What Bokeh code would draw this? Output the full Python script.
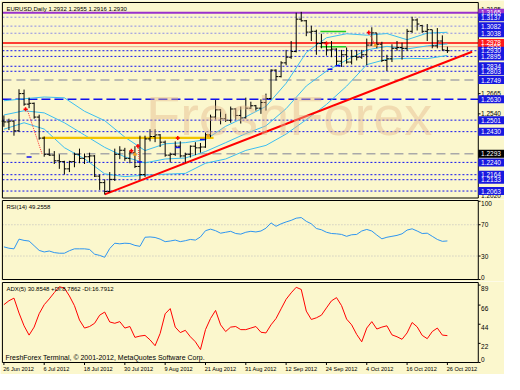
import numpy as np
from bokeh.plotting import figure
from bokeh.layouts import column
from bokeh.models import Range1d, Label
from bokeh.core.properties import value
from bokeh.embed import file_html
from bokeh.resources import INLINE

# ---------------- data ----------------
date_ticks = [0, 8, 16, 24, 32, 40, 48, 56, 64, 72, 80, 88]
date_labels = ["26 Jun 2012", "6 Jul 2012", "18 Jul 2012", "30 Jul 2012", "9 Aug 2012",
               "21 Aug 2012", "31 Aug 2012", "12 Sep 2012", "24 Sep 2012", "4 Oct 2012",
               "16 Oct 2012", "26 Oct 2012"]

opens = [1.2495, 1.2490, 1.2495, 1.2435, 1.2665, 1.2600, 1.2605, 1.2520, 1.2390, 1.2290,
         1.2285, 1.2250, 1.2245, 1.2200, 1.2245, 1.2290, 1.2265, 1.2275, 1.2280, 1.2155,
         1.2115, 1.2060, 1.2135, 1.2290, 1.2315, 1.2265, 1.2300, 1.2215, 1.2165, 1.2385,
         1.2400, 1.2410, 1.2365, 1.2285, 1.2290, 1.2340, 1.2280, 1.2290, 1.2340, 1.2330,
         1.2335, 1.2410, 1.2520, 1.2565, 1.2510, 1.2500, 1.2570, 1.2530, 1.2515, 1.2575,
         1.2590, 1.2575, 1.2610, 1.2635, 1.2810, 1.2770, 1.2855, 1.2890, 1.2925, 1.3125,
         1.3115, 1.3045, 1.3050, 1.2975, 1.2980, 1.2935, 1.2940, 1.2865, 1.2905, 1.2860,
         1.2895, 1.2890, 1.2905, 1.2965, 1.3040, 1.2970, 1.2870, 1.2880, 1.2945, 1.2950,
         1.2945, 1.3050, 1.3120, 1.3085, 1.3050, 1.3060, 1.2960, 1.2990, 1.2932]
highs = [1.2530, 1.2510, 1.2500, 1.2692, 1.2690, 1.2640, 1.2610, 1.2535, 1.2400, 1.2325,
         1.2310, 1.2290, 1.2250, 1.2250, 1.2300, 1.2325, 1.2295, 1.2300, 1.2285, 1.2165,
         1.2135, 1.2180, 1.2325, 1.2340, 1.2330, 1.2310, 1.2340, 1.2405, 1.2405, 1.2445,
         1.2445, 1.2415, 1.2375, 1.2300, 1.2370, 1.2370, 1.2300, 1.2345, 1.2365, 1.2360,
         1.2425, 1.2535, 1.2625, 1.2570, 1.2540, 1.2585, 1.2575, 1.2585, 1.2640, 1.2615,
         1.2595, 1.2630, 1.2665, 1.2815, 1.2815, 1.2865, 1.2935, 1.2990, 1.3165, 1.3170,
         1.3120, 1.3085, 1.3060, 1.3035, 1.2985, 1.2990, 1.2945, 1.2935, 1.2950, 1.2935,
         1.2935, 1.2935, 1.3005, 1.3075, 1.3040, 1.2985, 1.2905, 1.2970, 1.2990, 1.2980,
         1.3065, 1.3140, 1.3130, 1.3090, 1.3095, 1.3060, 1.3070, 1.3025, 1.2955]
lows = [1.2460, 1.2440, 1.2405, 1.2430, 1.2590, 1.2575, 1.2510, 1.2380, 1.2275, 1.2280,
        1.2230, 1.2200, 1.2165, 1.2180, 1.2210, 1.2235, 1.2230, 1.2240, 1.2150, 1.2070,
        1.2042, 1.2055, 1.2125, 1.2260, 1.2250, 1.2235, 1.2205, 1.2135, 1.2150, 1.2370,
        1.2365, 1.2335, 1.2275, 1.2240, 1.2280, 1.2270, 1.2240, 1.2270, 1.2285, 1.2300,
        1.2330, 1.2395, 1.2505, 1.2475, 1.2490, 1.2485, 1.2505, 1.2480, 1.2510, 1.2570,
        1.2560, 1.2540, 1.2560, 1.2630, 1.2745, 1.2765, 1.2840, 1.2880, 1.2920, 1.3110,
        1.3020, 1.2990, 1.2905, 1.2945, 1.2900, 1.2890, 1.2835, 1.2830, 1.2850, 1.2845,
        1.2870, 1.2880, 1.2840, 1.2960, 1.2945, 1.2860, 1.2805, 1.2860, 1.2930, 1.2875,
        1.2930, 1.3040, 1.3055, 1.3040, 1.2990, 1.2945, 1.2945, 1.2930, 1.2916]
closes = [1.2490, 1.2495, 1.2435, 1.2665, 1.2600, 1.2605, 1.2520, 1.2390, 1.2290, 1.2285,
          1.2250, 1.2245, 1.2200, 1.2245, 1.2290, 1.2265, 1.2275, 1.2280, 1.2155, 1.2115,
          1.2060, 1.2135, 1.2290, 1.2315, 1.2265, 1.2300, 1.2215, 1.2165, 1.2385, 1.2400,
          1.2410, 1.2365, 1.2285, 1.2290, 1.2340, 1.2280, 1.2290, 1.2340, 1.2330, 1.2335,
          1.2410, 1.2520, 1.2565, 1.2510, 1.2500, 1.2570, 1.2530, 1.2515, 1.2575, 1.2590,
          1.2575, 1.2610, 1.2635, 1.2810, 1.2770, 1.2855, 1.2890, 1.2925, 1.3125, 1.3115,
          1.3045, 1.3050, 1.2975, 1.2980, 1.2935, 1.2940, 1.2865, 1.2905, 1.2860, 1.2895,
          1.2890, 1.2905, 1.2965, 1.3040, 1.2970, 1.2870, 1.2880, 1.2945, 1.2950, 1.2945,
          1.3050, 1.3120, 1.3095, 1.3050, 1.3060, 1.2960, 1.2990, 1.2935, 1.2930]

bb_idx = [0, 4, 8, 12, 16, 20, 24, 28, 32, 36, 40, 44, 48, 52, 56, 60, 64, 68, 72, 76,
          80, 84, 88]
bb_upper = [1.2621, 1.2633, 1.2644, 1.2639, 1.2556, 1.2498, 1.2396, 1.2313, 1.2355, 1.2362,
            1.2380, 1.2463, 1.2522, 1.2586, 1.2729, 1.2919, 1.3010, 1.3035, 1.3026, 1.3036,
            1.2998, 1.3039, 1.3044]
bb_mid = [1.2533, 1.2559, 1.2546, 1.2485, 1.2409, 1.2333, 1.2274, 1.2237, 1.2261, 1.2267,
          1.2307, 1.2362, 1.2418, 1.2466, 1.2572, 1.2712, 1.2804, 1.2873, 1.2935, 1.2957,
          1.2941, 1.2960, 1.2972]
bb_lower = [1.2445, 1.2485, 1.2446, 1.2331, 1.2262, 1.2169, 1.2152, 1.2161, 1.2167, 1.2172,
            1.2235, 1.2261, 1.2314, 1.2345, 1.2415, 1.2504, 1.2598, 1.2711, 1.2844, 1.2878,
            1.2883, 1.2881, 1.2901]

rsi = [41.7, 40.0, 39.2, 51.6, 50.0, 49.2, 43.2, 37.2, 35.2, 36.4,
       34.4, 33.6, 33.6, 36.8, 39.2, 39.2, 39.2, 38.4, 32.4, 30.8,
       28.4, 39.6, 46.4, 45.6, 46.4, 46.0, 43.6, 42.4, 54.0, 54.4,
       53.7, 51.6, 48.4, 49.2, 50.4, 48.4, 49.6, 51.2, 50.4, 54.4,
       62.4, 64.4, 62.4, 59.2, 60.4, 61.6, 58.8, 58.0, 60.4, 61.6,
       60.8, 62.0, 65.6, 72.4, 68.0, 71.2, 73.6, 75.6, 78.4, 79.2,
       74.4, 71.2, 65.2, 63.6, 60.4, 58.8, 58.4, 57.6, 55.2, 57.2,
       57.6, 62.0, 64.0, 62.0, 56.8, 52.0, 54.0, 55.2, 56.4, 58.4,
       63.2, 64.8, 62.0, 58.8, 59.2, 55.2, 51.2, 48.8, 49.3]

adx = [66.5, 71.0, 74.0, 56.9, 42.2, 31.5, 40.7, 56.1, 66.5, 73.1,
       80.4, 87.1, 85.6, 76.5, 65.4, 48.8, 39.6, 41.4, 45.1, 54.4,
       58.0, 46.6, 45.1, 47.0, 39.6, 41.4, 28.9, 30.4, 31.2, 26.0,
       19.3, 33.4, 56.0, 62.0, 40.7, 34.4, 37.0, 29.6, 23.8, 14.9,
       37.8, 50.6, 59.9, 43.3, 35.6, 40.7, 41.4, 37.8, 37.8, 39.6,
       41.4, 34.8, 34.0, 43.3, 50.6, 61.7, 72.7, 80.1, 86.5, 84.0,
       59.1, 49.5, 51.4, 54.4, 62.8, 70.9, 74.6, 65.4, 49.9, 43.3,
       32.3, 23.8, 39.6, 47.0, 38.5, 40.7, 42.2, 31.8, 29.6, 26.7,
       34.0, 46.0, 41.0, 31.2, 27.4, 35.6, 39.6, 31.5, 30.9]

# horizontal levels: value, line kind, box kind
levels = [1.3165, 1.3137, 1.3082, 1.3038, 1.2978, 1.2955, 1.2930, 1.2895, 1.2834, 1.2803,
          1.2749, 1.2630, 1.2501, 1.2430, 1.2293, 1.2240, 1.2164, 1.2133, 1.2063]
level_line = ["purple", "lav", "lav", "lav", "red", "pink", "blue", "blue", "blue", "blue",
              "gray", "bluedash", "blue", "blue", "gray", "blue", "blue", "blue", "blue"]
level_box = ["purple", "blue", "blue", "blue", "red", "red", "blue", "blue", "blue", "blue",
             "blue", "blue", "blue", "blue", "black", "blue", "blue", "blue", "blue"]
price_ticks = [1.3185, 1.2665, 1.2540, 1.2020]
rsi_ticks = [100, 70, 30, 0]
adx_ticks = [89, 66, 44, 22, 0]

trend_x = [20, 92.9]
trend_y = [1.2042, 1.2924]
yellow_x = [7.6, 41.6]
yellow_y = [1.2391, 1.2391]
green_x = [62.8, 67.9]
green_levels = [1.3049, 1.2954]

red_sig_x = [4.3, 25.3, 26.6, 34.5, 64.0, 72.4]
red_sig_y = [1.2569, 1.2312, 1.2341, 1.2391, 1.2974, 1.3043]
blue_sig_x = [5.0, 26.9, 34.5, 39.4, 64.7, 66.3]
blue_sig_y = [1.2273, 1.2243, 1.2332, 1.2381, 1.2815, 1.2837]
orange_sig_x = [26.0, 73.7, 40.5]
orange_sig_y = [1.2290, 1.2964, 1.2405]
conn_x = [[4.6, 7.6], [25.3, 26.0], [26.6, 26.9], [72.4, 73.7]]
conn_y = [[1.2569, 1.2290], [1.2312, 1.2290], [1.2341, 1.2243], [1.3043, 1.2964]]

header = "EURUSD,Daily  1.2932 1.2955 1.2916 1.2930"
rsi_header = "RSI(14) 49.2558"
adx_header = "ADX(5) 30.8548 +DI:8.7862 -DI:16.7912"
footer = "FreshForex Terminal, \u00a9 2001-2012, MetaQuotes Software Corp."
watermark = "FreshForex"

# ---------------- styling ----------------
BG = "#FBF7CD"
FONT = "Liberation Sans"
FS = "6.5px"
XL, XR = -0.673, 99.33      # whole canvas width
X0, X1 = -0.29, 94.13       # panel frame
P0, P1 = 1.2020, 1.3228

line_styles = {
    "purple": ("#9932CC", "solid", 2),
    "lav": ("#8C8CE6", "2 2", 1),
    "blue": ("#1010F0", "2 2", 1),
    "red": ("#FF0000", "solid", 1.5),
    "pink": ("#F2A48C", "solid", 1),
    "gray": ("#A9A9A9", "9 5", 1.5),
    "bluedash": ("#1010F0", "9 4", 1.5),
}
box_colors = {"purple": "#9932CC", "blue": "#1818E0", "red": "#FF1A1A", "black": "#000000"}

xr = Range1d(XL, XR)


def make_fig(h, y0, y1):
    p = figure(width=504, height=h, x_range=xr, y_range=Range1d(y0, y1),
               output_backend="svg", toolbar_location=None, y_axis_location=None,
               x_axis_location=None, min_border_left=0, min_border_right=0,
               min_border_top=0, min_border_bottom=0)
    p.background_fill_color = BG
    p.border_fill_color = BG
    p.outline_line_color = None
    p.grid.visible = False
    return p


def frame(p, lo, hi):
    p.line([X0, X1, X1, X0, X0], [lo, lo, hi, hi, lo], line_color="black", line_width=1)


def scale_text(p, ys, texts, color="black", baseline="middle"):
    p.text([X1 + 0.55] * len(ys), ys, text=texts, text_font=value(FONT),
           text_font_size=value(FS), text_color=color, text_baseline=baseline,
           text_align="left")


# ---------------- price panel ----------------
pstep = (P1 - P0) / 195.5
pp = make_fig(199, P0 - 1.5 * pstep, P1 + 2.0 * pstep)

pp.add_layout(Label(x=56.6, y=1.2529, text=watermark, text_font_size="56px",
                    text_font=FONT, text_color="#E4B88E", text_alpha=0.45,
                    text_align="center", text_baseline="alphabetic"))

for lv, lk in zip(levels, level_line):
    c, d, w = line_styles[lk]
    pp.line([X0, X1], [lv, lv], line_color=c, line_dash=d, line_width=w)

for arr in (bb_upper, bb_mid, bb_lower):
    pp.line(bb_idx, arr, line_color="#3CBEF0", line_width=1)

pp.line(yellow_x, yellow_y, line_color="#F2C400", line_width=2.2)
for g in green_levels:
    pp.line(green_x, [g, g], line_color="#22CC22", line_width=1.5)
pp.line(trend_x, trend_y, line_color="#FF0000", line_width=2)

idx = np.arange(len(opens))
pp.segment(idx, lows, idx, highs, line_color="black", line_width=1)
pp.segment(idx - 0.45, opens, idx, opens, line_color="black", line_width=1)
pp.segment(idx, closes, idx + 0.45, closes, line_color="black", line_width=1)

pp.multi_line(conn_x, conn_y, line_color="#FF3030", line_dash="1 1", line_width=1)
pp.scatter(red_sig_x, red_sig_y, marker="cross", size=4, line_color="#FF0000", line_width=1.5)
pp.scatter(blue_sig_x, blue_sig_y, marker="dash", size=5, line_color="#1010F0", line_width=1.5)
pp.scatter(orange_sig_x, orange_sig_y, marker="triangle", size=3, fill_color="#F0A020",
           line_color="#F0A020")

frame(pp, P0, P1)

# right price scale: plain ticks and coloured level boxes
pp.segment([X1] * 3, price_ticks[:-1], [X1 + 0.45] * 3, price_ticks[:-1], line_color="black")
scale_text(pp, price_ticks[:-1], ["%.4f" % t for t in price_ticks[:-1]])
scale_text(pp, [P0], ["%.4f" % price_ticks[-1]], baseline="bottom")
box_h = 8 * pstep
pp.rect([(X1 + XR) / 2] * len(levels), levels, width=XR - X1, height=box_h,
        fill_color=[box_colors[b] for b in level_box], line_color=None)
scale_text(pp, levels, ["%.4f" % v for v in levels], color="white")

pp.add_layout(Label(x=X0, y=P1, x_offset=4, y_offset=-3, text=header, text_font=FONT,
                    text_font_size="6px", text_baseline="top", text_align="left",
                    text_color="black"))

# ---------------- RSI panel ----------------
R0, R1 = 0, 101
rstep = (R1 - R0) / 79.0
rp = make_fig(82, R0 - 2 * rstep, R1 + 1 * rstep)
for lv in (30, 70):
    rp.line([X0, X1], [lv, lv], line_color="#BDBDBD", line_dash="1 2", line_width=1)
rp.line(idx, rsi, line_color="#2E95F0", line_width=1)
frame(rp, R0, R1)
rp.segment([X1] * 4, rsi_ticks, [X1 + 0.45] * 4, rsi_ticks, line_color="black")
scale_text(rp, [97, 70, 30, 3], [str(t) for t in rsi_ticks])
rp.add_layout(Label(x=X0, y=R1, x_offset=4, y_offset=-3, text=rsi_header, text_font=FONT,
                    text_font_size="6px", text_baseline="top", text_align="left",
                    text_color="black"))

# ---------------- ADX panel + date row ----------------
A0, A1 = 0, 92
astep = (A1 - A0) / 80.0
ap = make_fig(93, A0 - 12 * astep, A1 + 1 * astep)
ap.line(idx, adx, line_color="#FF0000", line_width=1)
frame(ap, A0, A1)
ap.segment([X1] * 5, adx_ticks, [X1 + 0.45] * 5, adx_ticks, line_color="black")
scale_text(ap, [t - 3.5 if t > 0 else 3.5 for t in adx_ticks], [str(t) for t in adx_ticks])
ap.add_layout(Label(x=X0, y=A1, x_offset=4, y_offset=-3, text=adx_header, text_font=FONT,
                    text_font_size="6px", text_baseline="top", text_align="left",
                    text_color="black"))
ap.add_layout(Label(x=X0, y=A0, x_offset=3, y_offset=2, text=footer, text_font=FONT,
                    text_font_size="7px", text_baseline="bottom", text_align="left",
                    text_color="black"))
dt = np.array(date_ticks)
ap.segment(dt, [A0] * len(dt), dt, [A0 - 2.5 * astep] * len(dt), line_color="black")
ap.text(dt - 0.15, [A0 - 6.5 * astep] * len(dt), text=date_labels, text_font=value(FONT),
        text_font_size=value("5.6px"), text_color="black", text_baseline="middle",
        text_align="left")

layout = column(pp, rp, ap, spacing=0)
open("out.html", "w").write(file_html(layout, INLINE))
